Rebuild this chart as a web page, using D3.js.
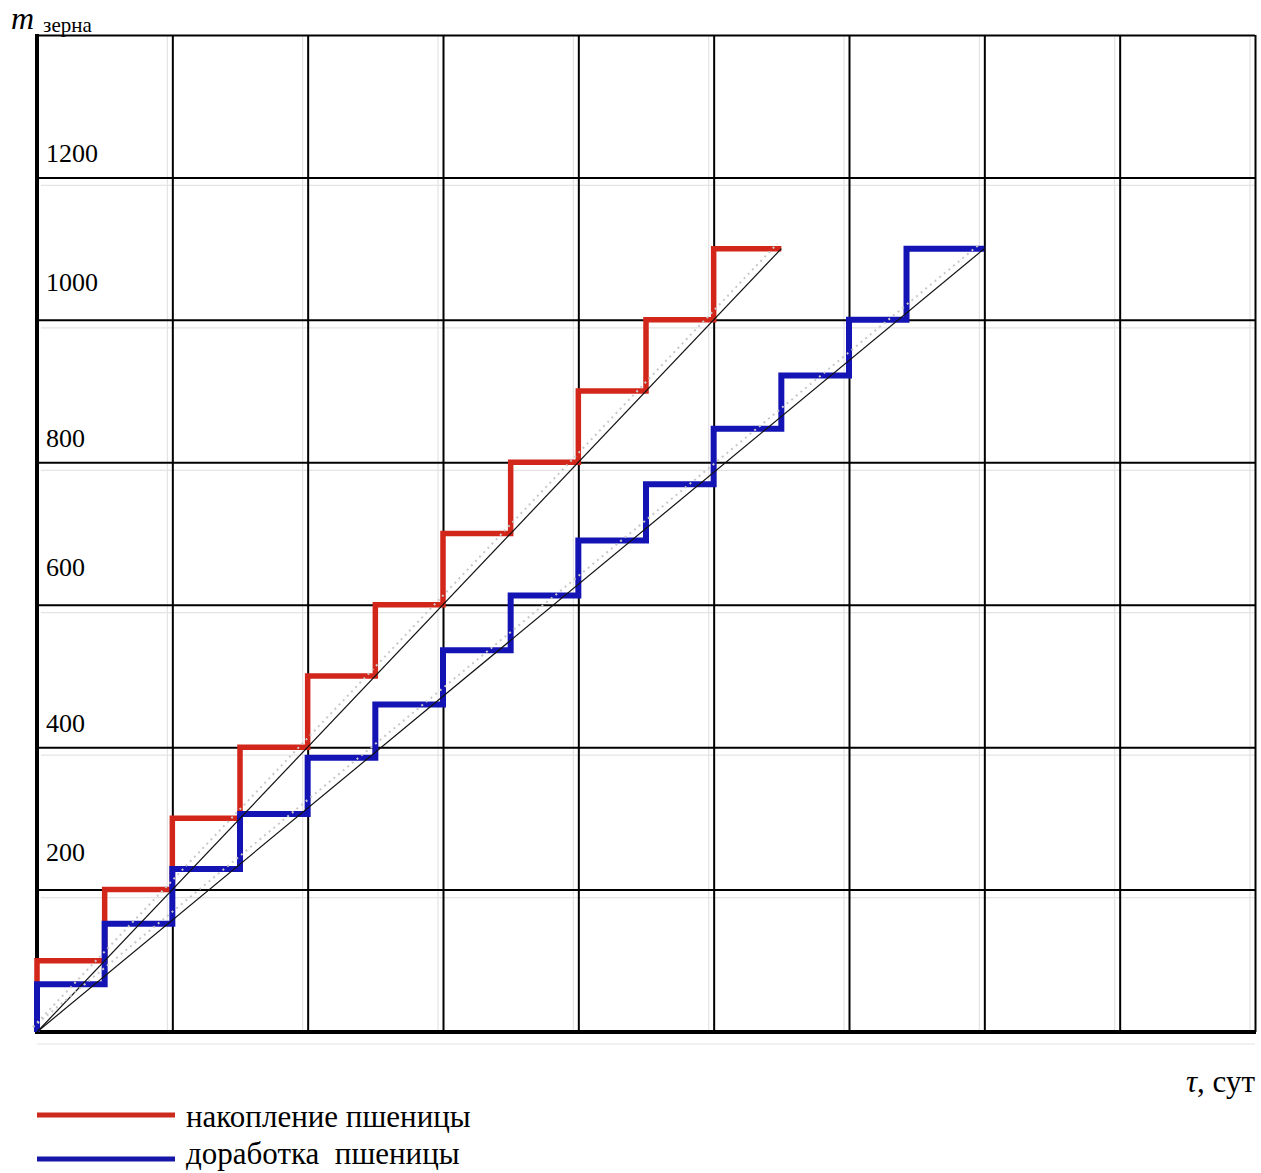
<!DOCTYPE html>
<html>
<head>
<meta charset="utf-8">
<script src="https://cdn.jsdelivr.net/npm/d3@7/dist/d3.min.js"></script>
<style>
  html, body { margin: 0; padding: 0; background: #fff; }
  svg { display: block; }
  text { font-family: "Liberation Serif", "Times New Roman", serif; fill: #000; }
</style>
</head>
<body>
<svg id="chart" width="1261" height="1173"></svg>
<script>
// Grain accumulation (red) and grain processing (blue), tonnes vs days
const redStepDays   = [0, 1, 2, 3, 4, 5, 6, 7, 8, 9, 10];
const redLevels     = [100, 200, 300, 400, 500, 600, 700, 800, 900, 1000, 1100];
const redEndDay     = 11;

const blueStepDays  = [0, 1, 2, 3, 4, 5, 6, 7, 8, 9, 10, 11, 12, 12.85];
const blueLevels    = [67, 152, 229, 306, 385, 460, 536, 613, 690, 769, 847, 922, 1000, 1100];
const blueEndDay    = 14;

// Average-rate lines: [start, end] as [day, mass]
const redTrend  = [[0, 0], [11, 1100]];
const blueTrend = [[0, 0], [14, 1100]];

const xGrid   = d3.range(0, 19, 2);
const yGrid   = d3.range(0, 1401, 200);
const yLabels = [200, 400, 600, 800, 1000, 1200];

const legendItems = [
  { label: "накопление пшеницы", color: "#cc2a1c" },
  { label: "доработка  пшеницы", color: "#1616a8" }
];

const svg = d3.select("#chart");
const plotLeft = 37, plotRight = 1255, plotTop = 35, plotBottom = 1032;

const x = d3.scaleLinear().domain([0, 18]).range([plotLeft, plotRight]);
const y = d3.scaleLinear().domain([0, 1400]).range([plotBottom, plotTop]);

// faint secondary grid ghosts
const ghost = svg.append("g").attr("stroke", "#e4e4e4").attr("stroke-width", 1.2);
ghost.selectAll("line.gh").data(yGrid.slice(1, -1)).join("line")
  .attr("x1", plotLeft + 4).attr("x2", plotRight)
  .attr("y1", d => y(d) + 8).attr("y2", d => y(d) + 8);
ghost.selectAll("line.gv").data(xGrid.slice(1)).join("line")
  .attr("y1", plotTop).attr("y2", plotBottom)
  .attr("x1", d => x(d) - 5).attr("x2", d => x(d) - 5);
ghost.append("line").attr("x1", plotLeft).attr("x2", plotRight)
  .attr("y1", plotBottom + 12).attr("y2", plotBottom + 12);

// grid from axes
const gx = svg.append("g").attr("transform", `translate(0,${plotBottom})`)
  .call(d3.axisBottom(x).tickValues(xGrid).tickSize(-(plotBottom - plotTop)).tickFormat(""));
gx.select(".domain").remove();
gx.selectAll(".tick line").attr("stroke", "#000").attr("stroke-width", 2);

const gy = svg.append("g").attr("transform", `translate(${plotLeft},0)`)
  .call(d3.axisLeft(y).tickValues(yGrid).tickSize(-(plotRight - plotLeft)).tickFormat(""));
gy.select(".domain").remove();
gy.selectAll(".tick line").attr("stroke", "#000").attr("stroke-width", 2);

// heavier axes
svg.append("line").attr("x1", plotLeft).attr("x2", plotLeft).attr("y1", plotTop - 1).attr("y2", plotBottom + 2)
  .attr("stroke", "#000").attr("stroke-width", 4);
svg.append("line").attr("x1", plotLeft).attr("x2", plotRight + 1).attr("y1", plotBottom).attr("y2", plotBottom)
  .attr("stroke", "#000").attr("stroke-width", 4);

// y tick labels sit inside the plot, above their grid lines
svg.append("g").selectAll("text").data(yLabels).join("text")
  .attr("x", plotLeft + 9)
  .attr("y", d => y(d) - (d % 400 === 0 ? 15 : 29))
  .attr("font-size", 26)
  .text(d => d);

// staircase series
function stairPoints(days, levels, endDay) {
  const pts = [[0, 0]];
  days.forEach((d, i) => pts.push([d, levels[i]]));
  pts.push([endDay, levels[levels.length - 1]]);
  return pts;
}
const stair = d3.line().x(d => x(d[0])).y(d => y(d[1])).curve(d3.curveStepAfter);

svg.append("path").datum(stairPoints(redStepDays, redLevels, redEndDay))
  .attr("d", stair).attr("fill", "none")
  .attr("stroke", "#d2261a").attr("stroke-width", 5.5).attr("stroke-linejoin", "miter");
svg.append("path").datum(stairPoints(blueStepDays, blueLevels, blueEndDay))
  .attr("d", stair).attr("fill", "none")
  .attr("stroke", "#1414b4").attr("stroke-width", 6).attr("stroke-linejoin", "miter");

// average-rate lines with a faint dotted halo
const straight = d3.line().x(d => x(d[0])).y(d => y(d[1]));
[redTrend, blueTrend].forEach(tr => {
  svg.append("path").datum(tr).attr("d", straight).attr("fill", "none")
    .attr("stroke", "#c8c8c8").attr("stroke-width", 2).attr("stroke-dasharray", "2,4")
    .attr("transform", "translate(-4,-5)");
  svg.append("path").datum(tr).attr("d", straight).attr("fill", "none")
    .attr("stroke", "#111").attr("stroke-width", 1.2);
});

// axis titles
const mTitle = svg.append("text").attr("x", 11).attr("y", 29);
mTitle.append("tspan").attr("font-size", 32).attr("font-style", "italic").text("m");
mTitle.append("tspan").attr("font-size", 21).attr("dx", 9).attr("dy", 3).text("зерна");

const tTitle = svg.append("text").attr("x", 1186).attr("y", 1092).attr("font-size", 31);
tTitle.append("tspan").attr("font-style", "italic").text("τ");
tTitle.append("tspan").text(", сут");

// legend
const lg = svg.append("g");
legendItems.forEach((it, i) => {
  const ly = 1115 + i * 44;
  lg.append("line").attr("x1", plotLeft).attr("x2", 175).attr("y1", ly).attr("y2", ly)
    .attr("stroke", it.color).attr("stroke-width", 5);
  lg.append("text").attr("x", 186).attr("y", i === 0 ? ly + 12 : ly + 5).attr("font-size", 31)
    .attr("xml:space", "preserve").style("white-space", "pre").text(it.label);
});
</script>
</body>
</html>
